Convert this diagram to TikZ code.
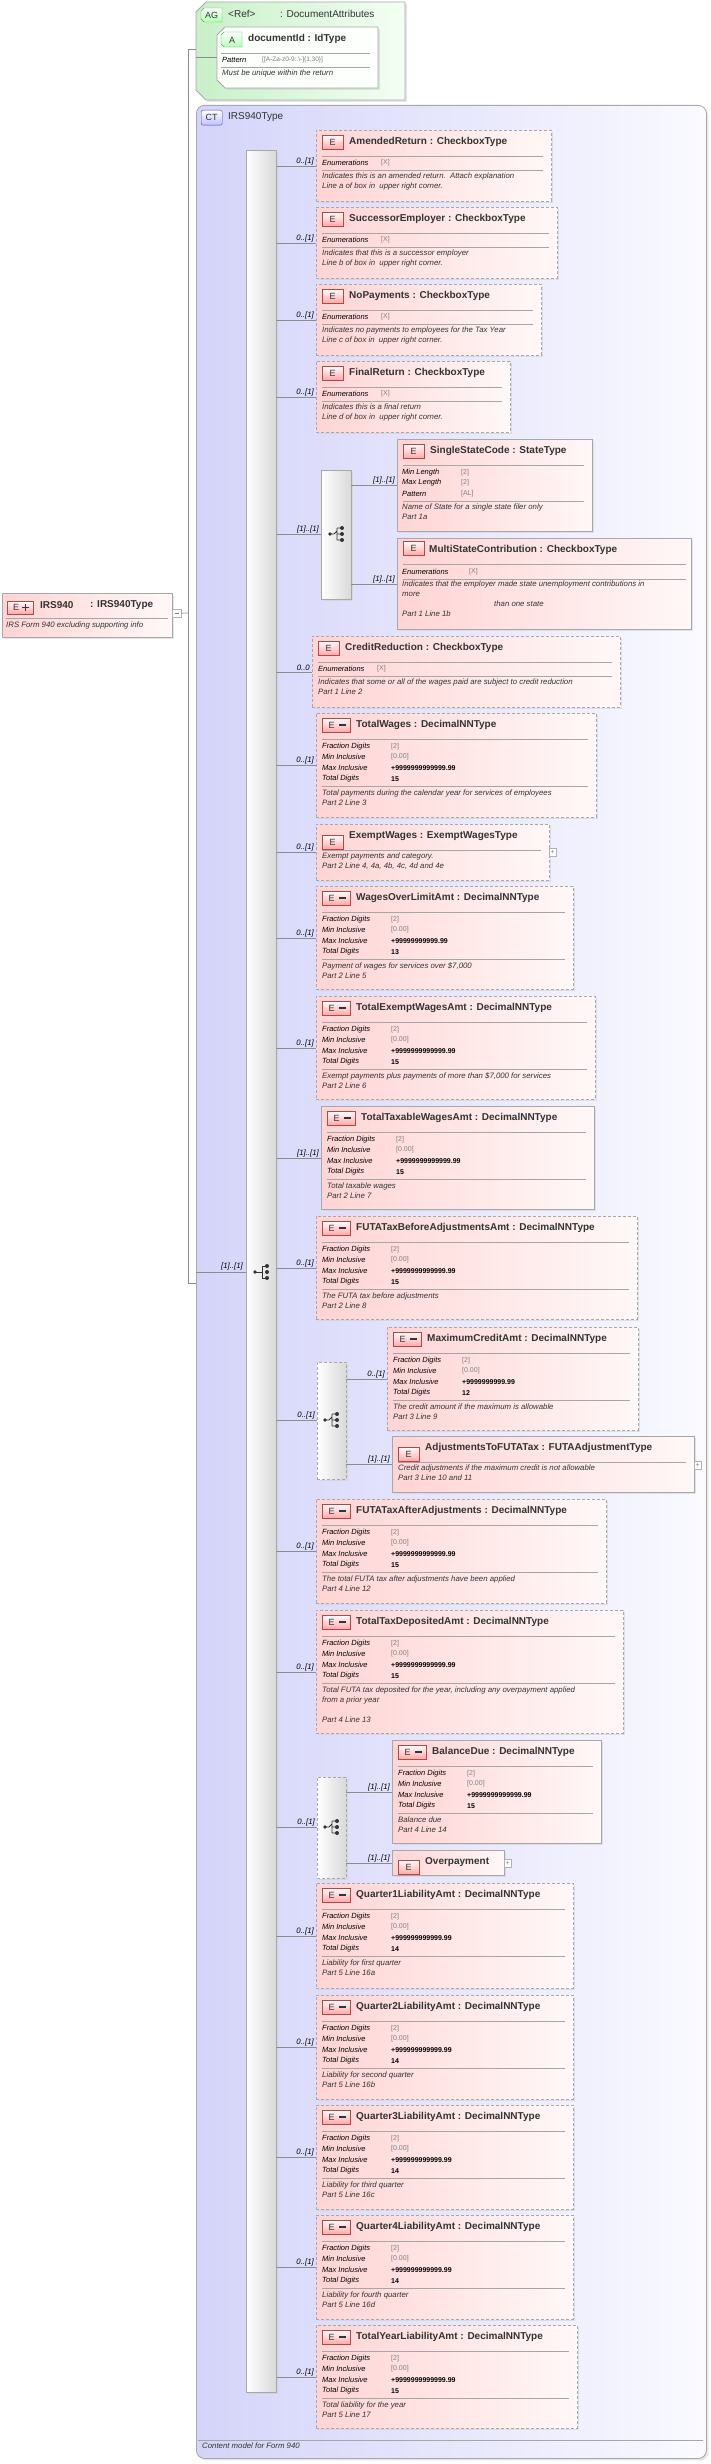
\documentclass[tikz,border=0pt]{standalone}
\usepackage{fontspec}
\setmainfont{Liberation Sans}
\usetikzlibrary{shadows}
\definecolor{pinkL}{RGB}{255,212,212}
\definecolor{pinkR}{RGB}{255,248,248}
\definecolor{ctL}{RGB}{212,212,250}
\definecolor{ctR}{RGB}{250,250,255}
\definecolor{agL}{RGB}{200,240,200}
\definecolor{agR}{RGB}{244,255,244}
\definecolor{bord}{RGB}{168,168,168}
\definecolor{txt}{RGB}{51,51,51}
\definecolor{line}{RGB}{140,140,140}
\newcommand\IcE[3]{\node[icon,minimum width=21,minimum height=14] (#1i) at ({#2+6},{#3+5}) {E};}
\newcommand\IcEE[3]{\node[icon,minimum width=28,minimum height=14] (#1i) at ({#2+6},{#3+5}) {\hspace*{-9pt}E};
  \fill[txt] ({#2+23},{#3+11}) rectangle ({#2+30},{#3+13});}
% numeric facet box
\newcommand\FBox[9]{%
  \node[#6,anchor=north west,minimum width={#4-#2},minimum height={#5-#3}] (#1) at (#2,#3) {};
  \IcEE{#1}{#2}{#3}
  \node[ttl] (#1t) at ({#2+40},{#3+12}) {#7};
  \draw[sep] ({#2+6},{#3+26}) -- ({#4-8},{#3+26});
  \node[fl] at ({#2+6},{#3+34}) {Fraction Digits}; \node[fvg] at ({#2+75},{#3+34}) {[2]};
  \node[fl] at ({#2+6},{#3+44}) {Min Inclusive}; \node[fvg] at ({#2+75},{#3+44}) {[0.00]};
  \node[fl] at ({#2+6},{#3+55}) {Max Inclusive}; \node[fv] at ({#2+75},{#3+55}) {#8};
  \node[fl] at ({#2+6},{#3+66}) {Total Digits}; \node[fv] at ({#2+75},{#3+66}) {#9};
  \draw[sep] ({#2+6},{#3+73}) -- ({#4-8},{#3+73});}
% enumeration box
\newcommand\NBox[7]{%
  \node[#6,anchor=north west,minimum width={#4-#2},minimum height={#5-#3}] (#1) at (#2,#3) {};
  \IcE{#1}{#2}{#3}
  \node[ttl] (#1t) at ({#2+33},{#3+12}) {#7};
  \draw[sep] ({#2+6},{#3+26}) -- ({#4-8},{#3+26});
  \node[fl] at ({#2+6},{#3+33}) {Enumerations}; \node[fvg] at ({#2+65},{#3+33}) {[X]};
  \draw[sep] ({#2+6},{#3+40}) -- ({#4-8},{#3+40});}
\newcommand\Dsc[3]{\node[desc] at ({#1+6},{#2}) {#3};}
\newcommand\Lbl[2]{\node[lbl] at ([xshift=-2pt,yshift=1pt]#1.west) {#2};}
\begin{document}
\begin{tikzpicture}[x=1pt,y=-1pt,
  ebox/.style={draw=bord,line width=0.8pt,left color=pinkL,right color=pinkR,inner sep=0,
    drop shadow={shadow xshift=2pt,shadow yshift=-2pt,fill=black!20}},
  dbox/.style={ebox,dash pattern=on 3pt off 2pt},
  icon/.style={draw=red!45!gray,top color=white,bottom color=red!35,anchor=north west,inner sep=0,
    font=\fontsize{9}{9}\selectfont,text=txt},
  ttl/.style={anchor=west,inner sep=0,font=\fontsize{10}{12}\selectfont\bfseries,text=txt},
  fl/.style={anchor=west,inner sep=0,font=\fontsize{7.5}{9}\selectfont\itshape,text=black},
  fvg/.style={anchor=west,inner sep=0,font=\fontsize{7}{9}\selectfont,text=gray},
  fv/.style={anchor=west,inner sep=0,font=\fontsize{7}{9}\selectfont\bfseries,text=black},
  desc/.style={anchor=north west,inner sep=0,align=left,font=\fontsize{7.8}{10}\selectfont\itshape,text=txt},
  lbl/.style={anchor=south east,inner sep=0,font=\fontsize{7.8}{9}\selectfont\itshape,text=black},
  sep/.style={draw=gray!70,line width=0.6pt},
  conn/.style={draw=line,line width=0.7pt},
  bar/.style={draw=bord,left color=white,right color=gray!30,inner sep=0,anchor=north west,
    drop shadow={shadow xshift=2pt,shadow yshift=-2pt,fill=black!20}},
  dbar/.style={bar,dash pattern=on 3pt off 2pt},
  exp/.style={draw=gray!60,fill=white,inner sep=0,minimum width=7,minimum height=8,anchor=north west,
    font=\fontsize{7}{7}\selectfont,text=gray}]
\useasboundingbox (0,0) rectangle (710,2464);
\fill[white] (0,0) rectangle (710,2464);
% ---------- attribute group ----------
\path[draw=bord,line width=0.8pt,left color=agL,right color=agR,drop shadow={shadow xshift=2pt,shadow yshift=-2pt,fill=black!20}]
  (206,2) -- (405,2) -- (405,100) -- (206,100) -- (196,90) -- (196,12) -- cycle;
\node[inner sep=0,anchor=north west,minimum width=209,minimum height=98] (ag) at (196,2) {};
\path[draw=gray!60!green,top color=white,bottom color=green!30] (204,8) -- (222,8) -- (222,22) -- (204,22) -- (201,19) -- (201,11) -- cycle;
\node[inner sep=0,font=\fontsize{9}{9}\selectfont,text=txt] (agi) at (211.5,15) {AG};
\node[ttl,font=\fontsize{10}{12}\selectfont] (agt) at (228,14) {<Ref>};
\node[ttl,font=\fontsize{10}{12}\selectfont] (agt2) at (280,14) {: DocumentAttributes};
\path[draw=bord,line width=0.8pt,fill=white!70!agR,drop shadow={shadow xshift=2pt,shadow yshift=-2pt,fill=black!20}]
  (225,27) -- (378,27) -- (378,88) -- (225,88) -- (217,80) -- (217,35) -- cycle;
\node[inner sep=0,anchor=north west,minimum width=161,minimum height=61] (docid) at (217,27) {};
\path[draw=gray!60!green,top color=white,bottom color=green!30] (224,32) -- (242,32) -- (242,47) -- (224,47) -- (221,44) -- (221,35) -- cycle;
\node[inner sep=0,font=\fontsize{9}{9}\selectfont,text=txt] (docidi) at (232,40) {A};
\node[ttl] (docidt) at (248,39) {documentId : IdType};
\draw[sep] (221,53) -- (370,53);
\node[fl] at (222,60) {Pattern};
\node[fvg,font=\fontsize{6.5}{8}\selectfont] at (262,60) {[[A-Za-z0-9:.\textbackslash-]\{1,30\}]};
\draw[sep] (221,67) -- (370,67);
\node[desc] at (222,70) {Must be unique within the return};
% ---------- complex type ----------
\node[draw=bord,line width=0.8pt,left color=ctL,right color=ctR,rounded corners=8pt,anchor=north west,
  minimum width=510,minimum height=2353,inner sep=0,
  drop shadow={shadow xshift=2pt,shadow yshift=-2pt,fill=black!20}] (ct) at (196,105) {};
\node[draw=blue!40!gray,top color=white,bottom color=blue!25,rounded corners=2pt,anchor=north west,
  minimum width=21,minimum height=15,inner sep=0,font=\fontsize{9}{9}\selectfont,text=txt] (cti) at (201,110) {CT};
\node[ttl,font=\fontsize{10}{12}\selectfont] (ctt) at (228,117) {IRS940Type};
\draw[sep] (198,2440) -- (703,2440);
\node[desc] (ctd) at (202,2443) {Content model for Form 940};
% ---------- root ----------
\node[ebox,anchor=north west,minimum width=170,minimum height=44] (root) at (2,593) {};
\node[icon,minimum width=26,minimum height=13] (rooti) at (7,601) {\hspace*{-8pt}E};
\draw[txt,line width=1.2pt] (22,607.5) -- (29,607.5) (25.5,604) -- (25.5,611);
\node[ttl] (roott) at (40,605) {IRS940};
\node[ttl] (roott2) at (90,605) {: IRS940Type};
\draw[sep] (6,618) -- (168,618);
\node[desc] at (6,622) {IRS Form 940 excluding supporting info};
\node[exp,minimum width=9] (rootx) at (172,609) {};
\draw[gray] (174.5,613) -- (178.5,613);
% bracket to type
\coordinate (br) at (188,613);
\draw[conn] (rootx.east) -- (br);
\draw[conn] (ag.west |- 0,49) -- (188,49) -- (188,1283) -- (ct.west |- 0,1283);
\draw[conn] (ag.west |- docid.west) -- (docid.west);
% ---------- main sequence ----------
\node[bar,minimum width=30,minimum height=2242] (seq) at (246,150) {};
\draw[conn] (ct.west |- 0,1272) -- (seq.west |- 0,1272);
\node[lbl] at (243,1270) {[1]..[1]};
\begin{scope}[txt]
\fill (255,1272) circle (1.8);
\draw[line width=0.8pt] (255,1272) -- (262,1272) (262,1266) -- (262,1278) (262,1266) -- (267,1266) (262,1278) -- (267,1278);
\fill (267,1266) circle (2) (267,1272) circle (2) (267,1278) circle (2);
\end{scope}
% ---------- children ----------
\NBox{amr}{316}{130}{551}{201}{dbox}{AmendedReturn : CheckboxType}
\Dsc{316}{173}{Indicates this is an amended return.\ \ Attach explanation\\Line a of box in\ \ upper right corner.}
\NBox{suc}{316}{207}{557}{278}{dbox}{SuccessorEmployer : CheckboxType}
\Dsc{316}{250}{Indicates that this is a successor employer\\Line b of box in\ \ upper right corner.}
\NBox{nop}{316}{284}{541}{355}{dbox}{NoPayments : CheckboxType}
\Dsc{316}{327}{Indicates no payments to employees for the Tax Year\\Line c of box in\ \ upper right corner.}
\NBox{fin}{316}{361}{510}{432}{dbox}{FinalReturn : CheckboxType}
\Dsc{316}{404}{Indicates this is a final return\\Line d of box in\ \ upper right corner.}
\foreach \n in {amr,suc,nop,fin} {\draw[conn] (seq.east |- \n.west) -- (\n.west); \Lbl{\n}{0..[1]}}
% choice 1
\node[bar,minimum width=30,minimum height=129] (ch1) at (321,470) {};
\draw[conn] (seq.east |- ch1.west) -- (ch1.west); \Lbl{ch1}{[1]..[1]}
\node[ebox,anchor=north west,minimum width=195,minimum height=92] (ssc) at (397,439) {};
\IcE{ssc}{397}{439}
\node[ttl] (ssct) at (430,451) {SingleStateCode : StateType};
\draw[sep] (403,465) -- (584,465);
\node[fl] at (402,473) {Min Length}; \node[fvg] at (461,473) {[2]};
\node[fl] at (402,483) {Max Length}; \node[fvg] at (461,483) {[2]};
\node[fl] at (402,494) {Pattern}; \node[fvg] at (461,494) {[AL]};
\draw[sep] (403,501) -- (584,501);
\Dsc{396}{504}{Name of State for a single state filer only\\Part 1a}
\node[ebox,anchor=north west,minimum width=294,minimum height=91] (msc) at (397,538) {};
\IcE{msc}{397}{536}
\node[ttl] (msct) at (429,550) {MultiStateContribution : CheckboxType};
\draw[sep] (403,564) -- (686,564);
\node[fl] at (402,572) {Enumerations}; \node[fvg] at (469,572) {[X]};
\draw[sep] (403,579) -- (686,579);
\Dsc{396}{581}{Indicates that the employer made state unemployment contributions in\\more}
\node[desc] at (494,601) {than one state};
\Dsc{396}{611}{Part 1 Line 1b}
\foreach \n in {ssc,msc} {\draw[conn] (ch1.east |- \n.west) -- (\n.west); \Lbl{\n}{[1]..[1]}}
\begin{scope}[txt]
\fill (330,534) circle (1.8);
\draw[line width=0.8pt] (330,534) -- (334,534) -- (337,531) (337,528) -- (337,540) (337,534) -- (341,534) (337,528) -- (341,528) (337,540) -- (341,540);
\fill (342,528) circle (2) (342,534) circle (2) (342,540) circle (2);
\end{scope}
% credit reduction
\NBox{crd}{312}{636}{620}{707}{dbox}{CreditReduction : CheckboxType}
\Dsc{312}{679}{Indicates that some or all of the wages paid are subject to credit reduction\\Part 1 Line 2}
\draw[conn] (seq.east |- crd.west) -- (crd.west); \Lbl{crd}{0..0}
% total wages
\FBox{tw}{316}{713}{596}{817}{dbox}{TotalWages : DecimalNNType}{+9999999999999.99}{15}
\Dsc{316}{790}{Total payments during the calendar year for services of employees\\Part 2 Line 3}
% exempt wages
\node[dbox,anchor=north west,minimum width=233,minimum height=56] (ew) at (316,824) {};
\IcE{ew}{316}{830}
\node[ttl] (ewt) at (349,836) {ExemptWages : ExemptWagesType};
\draw[sep] (322,850) -- (541,850);
\Dsc{316}{853}{Exempt payments and category.\\Part 2 Line 4, 4a, 4b, 4c, 4d and 4e}
\node[exp] (ewx) at (549,848) {+};
% wages over limit
\FBox{wol}{316}{886}{573}{989}{dbox}{WagesOverLimitAmt : DecimalNNType}{+99999999999.99}{13}
\Dsc{316}{963}{Payment of wages for services over \$7,000\\Part 2 Line 5}
\FBox{tew}{316}{996}{595}{1099}{dbox}{TotalExemptWagesAmt : DecimalNNType}{+9999999999999.99}{15}
\Dsc{316}{1073}{Exempt payments plus payments of more than \$7,000 for services\\Part 2 Line 6}
\foreach \n in {tw,ew,wol,tew} {\draw[conn] (seq.east |- \n.west) -- (\n.west); \Lbl{\n}{0..[1]}}
\FBox{ttw}{321}{1106}{594}{1209}{ebox}{TotalTaxableWagesAmt : DecimalNNType}{+9999999999999.99}{15}
\Dsc{321}{1183}{Total taxable wages\\Part 2 Line 7}
\draw[conn] (seq.east |- ttw.west) -- (ttw.west); \Lbl{ttw}{[1]..[1]}
\FBox{fba}{316}{1216}{637}{1319}{dbox}{FUTATaxBeforeAdjustmentsAmt : DecimalNNType}{+9999999999999.99}{15}
\Dsc{316}{1293}{The FUTA tax before adjustments\\Part 2 Line 8}
\draw[conn] (seq.east |- fba.west) -- (fba.west); \Lbl{fba}{0..[1]}
% choice 2
\node[dbar,minimum width=29,minimum height=117] (ch2) at (317,1362) {};
\draw[conn] (seq.east |- ch2.west) -- (ch2.west); \Lbl{ch2}{0..[1]}
\begin{scope}[txt]
\fill (325,1420) circle (1.8);
\draw[line width=0.8pt] (325,1420) -- (329,1420) -- (332,1417) (332,1414) -- (332,1426) (332,1420) -- (336,1420) (332,1414) -- (336,1414) (332,1426) -- (336,1426);
\fill (337,1414) circle (2) (337,1420) circle (2) (337,1426) circle (2);
\end{scope}
\FBox{mca}{387}{1327}{638}{1430}{dbox}{MaximumCreditAmt : DecimalNNType}{+9999999999.99}{12}
\Dsc{387}{1404}{The credit amount if the maximum is allowable\\Part 3 Line 9}
\draw[conn] (ch2.east |- mca.west) -- (mca.west); \Lbl{mca}{0..[1]}
\node[ebox,anchor=north west,minimum width=302,minimum height=56] (adj) at (392,1436) {};
\IcE{adj}{392}{1442}
\node[ttl] (adjt) at (425,1448) {AdjustmentsToFUTATax : FUTAAdjustmentType};
\draw[sep] (398,1462) -- (686,1462);
\Dsc{392}{1465}{Credit adjustments if the maximum credit is not allowable\\Part 3 Line 10 and 11}
\node[exp] (adjx) at (694,1461) {+};
\draw[conn] (ch2.east |- adj.west) -- (adj.west); \Lbl{adj}{[1]..[1]}
% after adjustments
\FBox{faa}{316}{1499}{606}{1603}{dbox}{FUTATaxAfterAdjustments : DecimalNNType}{+9999999999999.99}{15}
\Dsc{316}{1576}{The total FUTA tax after adjustments have been applied\\Part 4 Line 12}
\FBox{ttd}{316}{1610}{623}{1733}{dbox}{TotalTaxDepositedAmt : DecimalNNType}{+9999999999999.99}{15}
\Dsc{316}{1687}{Total FUTA tax deposited for the year, including any overpayment applied\\from a prior year\\[10pt]Part 4 Line 13}
\foreach \n in {faa,ttd} {\draw[conn] (seq.east |- \n.west) -- (\n.west); \Lbl{\n}{0..[1]}}
% choice 3
\node[dbar,minimum width=29,minimum height=101] (ch3) at (317,1777) {};
\draw[conn] (seq.east |- ch3.west) -- (ch3.west); \Lbl{ch3}{0..[1]}
\begin{scope}[txt]
\fill (325,1827) circle (1.8);
\draw[line width=0.8pt] (325,1827) -- (329,1827) -- (332,1824) (332,1821) -- (332,1833) (332,1827) -- (336,1827) (332,1821) -- (336,1821) (332,1833) -- (336,1833);
\fill (337,1821) circle (2) (337,1827) circle (2) (337,1833) circle (2);
\end{scope}
\FBox{bal}{392}{1740}{601}{1843}{ebox}{BalanceDue : DecimalNNType}{+9999999999999.99}{15}
\Dsc{392}{1817}{Balance due\\Part 4 Line 14}
\node[ebox,anchor=north west,minimum width=112,minimum height=25] (ovp) at (392,1850) {};
\IcE{ovp}{392}{1855}
\node[ttl] (ovpt) at (425,1862) {Overpayment};
\node[exp] (ovpx) at (504,1859) {+};
\foreach \n in {bal,ovp} {\draw[conn] (ch3.east |- \n.west) -- (\n.west); \Lbl{\n}{[1]..[1]}}
% quarters
\FBox{q1}{316}{1883}{573}{1988}{dbox}{Quarter1LiabilityAmt : DecimalNNType}{+999999999999.99}{14}
\Dsc{316}{1960}{Liability for first quarter\\Part 5 Line 16a}
\FBox{q2}{316}{1995}{573}{2099}{dbox}{Quarter2LiabilityAmt : DecimalNNType}{+999999999999.99}{14}
\Dsc{316}{2072}{Liability for second quarter\\Part 5 Line 16b}
\FBox{q3}{316}{2105}{573}{2209}{dbox}{Quarter3LiabilityAmt : DecimalNNType}{+999999999999.99}{14}
\Dsc{316}{2182}{Liability for third quarter\\Part 5 Line 16c}
\FBox{q4}{316}{2215}{573}{2319}{dbox}{Quarter4LiabilityAmt : DecimalNNType}{+999999999999.99}{14}
\Dsc{316}{2292}{Liability for fourth quarter\\Part 5 Line 16d}
\FBox{tyl}{316}{2325}{577}{2428}{dbox}{TotalYearLiabilityAmt : DecimalNNType}{+9999999999999.99}{15}
\Dsc{316}{2402}{Total liability for the year\\Part 5 Line 17}
\foreach \n in {q1,q2,q3,q4,tyl} {\draw[conn] (seq.east |- \n.west) -- (\n.west); \Lbl{\n}{0..[1]}}
\end{tikzpicture}
\end{document}
